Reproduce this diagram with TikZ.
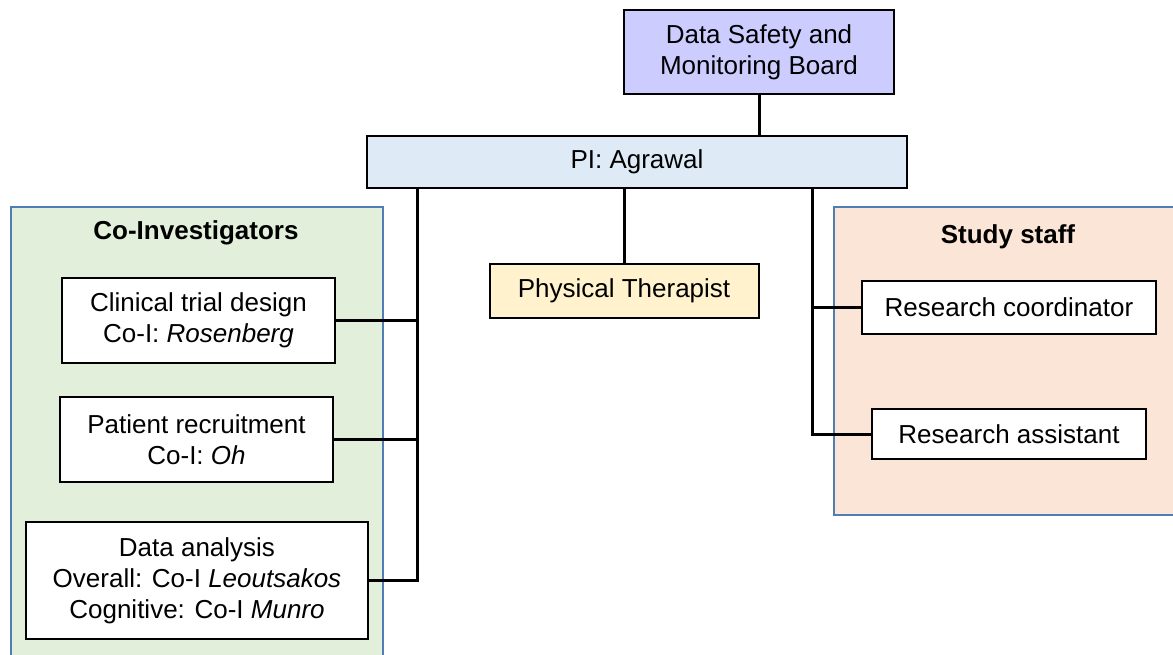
\documentclass[tikz,border=0pt]{standalone}
\usepackage{fontspec}
\setmainfont{Liberation Sans}
\definecolor{dsmbfill}{RGB}{204,204,255}
\definecolor{pifill}{RGB}{222,235,247}
\definecolor{ptfill}{RGB}{255,242,204}
\definecolor{coifill}{RGB}{226,239,218}
\definecolor{stafffill}{RGB}{251,229,214}
\definecolor{grpline}{RGB}{80,126,180}
\begin{document}
\begin{tikzpicture}[x=0.5pt,y=-0.5pt,font=\fontsize{13}{15.5}\selectfont]
			\useasboundingbox (0,0) rectangle (1173,654);
			\clip (0,0) rectangle (1173,654);
			
			\begin{scope}[every path/.style={draw=grpline,line width=1pt}]
				\path [fill=coifill] (11,207) rectangle (383,690);
				\path [fill=stafffill] (834,207) rectangle (1200,515);
			\end{scope}
			\node [font=\fontsize{13}{15.5}\selectfont\bfseries] (coititle) at (196,233) {Co-Investigators};
			\node [font=\fontsize{13}{15.5}\selectfont\bfseries] (stafftitle) at (1008,237) {Study staff};
			
			\begin{scope}[every node/.style={draw=black,line width=1pt,fill=white,align=center,inner sep=0pt}]
				\node [fill=dsmbfill,minimum width=135pt,minimum height=42pt] (dsmb) at (759,52) {Data Safety and\\Monitoring Board};
				\node [fill=pifill,minimum width=270pt,minimum height=26pt] (pi) at (637,162) {PI: Agrawal};
				\node [fill=ptfill,minimum width=134.5pt,minimum height=27pt] (pt) at (624,291) {Physical Therapist};
				\node [minimum width=136.5pt,minimum height=42.5pt] (clin) at (198.5,320.5) {Clinical trial design\\Co-I: \textit{Rosenberg}};
				\node [minimum width=136.5pt,minimum height=42.5pt] (pat) at (196.5,439.5) {Patient recruitment\\Co-I: \textit{Oh}};
				\node [minimum width=171pt,minimum height=58.5pt] (data) at (197,580.5) {Data analysis\\Overall: Co-I \textit{Leoutsakos}\\Cognitive: Co-I \textit{Munro}};
				\node [minimum width=147pt,minimum height=26.5pt] (coord) at (1009,307.5) {Research coordinator};
				\node [minimum width=137pt,minimum height=25pt] (asst) at (1009,434) {Research assistant};
			\end{scope}
			
			\coordinate (ltr) at (417,0);
			\coordinate (rtr) at (812,0);
			\begin{scope}[every path/.style={draw=black,line width=1.5pt}]
				\path (dsmb.south) -- (dsmb.south |- pi.north);
				\path (pt.north) -- (pt.north |- pi.south);
				\path (data.east) -| (ltr |- pi.south);
				\path (clin.east) -- (clin.east -| ltr);
				\path (pat.east) -- (pat.east -| ltr);
				\path (asst.west) -| (rtr |- pi.south);
				\path (coord.west) -- (coord.west -| rtr);
			\end{scope}
		\end{tikzpicture}
\end{document}
